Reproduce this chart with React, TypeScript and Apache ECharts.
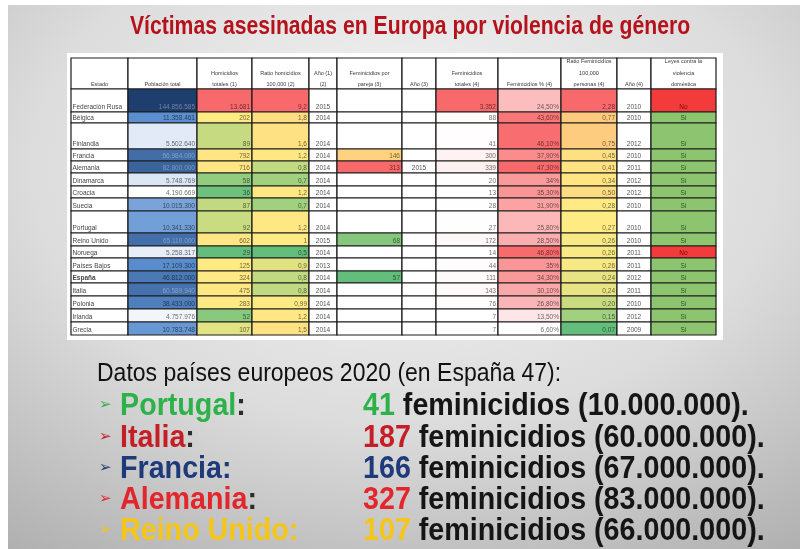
import React, { useEffect, useRef } from 'react';
import * as echarts from 'echarts';

// ---------- DATA ----------
const countries = ['Federación Rusa', 'Bélgica', 'Finlandia', 'Francia', 'Alemania', 'Dinamarca', 'Croacia', 'Suecia', 'Portugal', 'Reino Unido', 'Noruega', 'Países Bajos', 'España', 'Italia', 'Polonia', 'Irlanda', 'Grecia'];
const population = [144856585, 11358461, 5502640, 66984000, 82800000, 5748769, 4190669, 10015300, 10341330, 65110000, 5258317, 17109300, 46812000, 60589940, 38433000, 4757976, 10783748];
const homicides = [13681, 202, 89, 792, 716, 58, 36, 87, 92, 602, 29, 125, 324, 475, 283, 52, 107];
const homicideRatio = [9.2, 1.8, 1.6, 1.2, 0.8, 0.7, 1.2, 0.7, 1.2, 1, 0.5, 0.9, 0.8, 0.8, 0.99, 1.2, 1.5];
const year12 = [2015, 2014, 2014, 2014, 2014, 2014, 2014, 2014, 2014, 2015, 2014, 2013, 2014, 2014, 2014, 2014, 2014];
const femPartner = [null, null, null, 146, 313, null, null, null, null, 68, null, null, 57, null, null, null, null];
const year3 = [null, null, null, null, 2015, null, null, null, null, null, null, null, null, null, null, null, null];
const femTotal = [3352, 88, 41, 300, 339, 20, 13, 28, 27, 172, 14, 44, 111, 143, 76, 7, 7];
const femPct = [24.5, 43.6, 46.1, 37.9, 47.3, 34, 35.3, 31.9, 25.8, 28.5, 46.8, 35, 34.3, 30.1, 26.8, 13.5, 6.6];
const femRatio = [2.28, 0.77, 0.75, 0.45, 0.41, 0.34, 0.5, 0.28, 0.27, 0.26, 0.26, 0.26, 0.24, 0.24, 0.2, 0.15, 0.07];
const year4 = [2010, 2010, 2012, 2010, 2011, 2012, 2012, 2010, 2010, 2010, 2011, 2011, 2012, 2011, 2010, 2012, 2009];
const laws = ['No', 'Sí', 'Sí', 'Sí', 'Sí', 'Sí', 'Sí', 'Sí', 'Sí', 'Sí', 'No', 'Sí', 'Sí', 'Sí', 'Sí', 'Sí', 'Sí'];
const headers = ['Estado', 'Población total', 'Homicidios\ntotales (1)', 'Ratio homicidios\n100,000 (2)', 'Año (1)\n(2)', 'Feminicidios por\npareja (3)', 'Año (3)', 'Feminicidios\ntotales (4)', 'Feminicidios % (4)', 'Ratio Feminicidios\n100,000\npersonas (4)', 'Año (4)', 'Leyes contra la\nviolencia\ndoméstica'];

const names2020 = ['Portugal', 'Italia', 'Francia', 'Alemania', 'Reino Unido'];
const femicides2020 = [41, 187, 166, 327, 107];
const population2020 = [10000000, 60000000, 67000000, 83000000, 66000000];

// ---------- LAYOUT / STYLE ----------
const colEdges = [71, 128, 197, 252, 309, 337, 402, 436, 498, 561, 617, 651, 716];
const rowEdges = [58, 89, 112, 123, 149, 161, 173, 186, 198, 211, 233, 246, 258, 271, 283, 296, 309, 322, 335];
const GREEN = '#63BE7B', YELLOW = '#FFEB84', RED = '#F8696B', WHITE = '#FFFFFF';
const itemColors = ['#2DB24A', '#C61E26', '#1F3A7A', '#E3262B', '#F5C518'];
const colonColors = ['#2b2b2b', '#2b2b2b', '#1F3A7A', '#2b2b2b', '#F5C518'];

function hexToRgb(h: string) {
  const n = parseInt(h.slice(1), 16);
  return [(n >> 16) & 255, (n >> 8) & 255, n & 255];
}
function rgbToHex(c: number[]) {
  return '#' + c.map((v) => Math.max(0, Math.min(255, Math.round(v))).toString(16).padStart(2, '0')).join('');
}
function mix(a: string, b: string, t: number) {
  const A = hexToRgb(a), B = hexToRgb(b);
  return rgbToHex(A.map((v, i) => v + (B[i] - v) * t));
}
function lum(h: string) {
  const c = hexToRgb(h);
  return (0.299 * c[0] + 0.587 * c[1] + 0.114 * c[2]) / 255;
}
function percentile50(vals: number[]) {
  const s = [...vals].sort((a, b) => a - b);
  const m = (s.length - 1) / 2;
  return (s[Math.floor(m)] + s[Math.ceil(m)]) / 2;
}
function scale3(values: (number | null)[], lo: string, mid: string, hi: string) {
  const v = values.filter((x) => x != null) as number[];
  const min = Math.min(...v), max = Math.max(...v), med = percentile50(v);
  return (x: number) => {
    if (x <= med) return mix(lo, mid, med === min ? 0 : (x - min) / (med - min));
    return mix(mid, hi, (x - med) / (max - med));
  };
}
function scale2(values: number[], lo: string, hi: string) {
  const min = Math.min(...values), max = Math.max(...values);
  return (x: number) => mix(lo, hi, (x - min) / (max - min));
}
const fmtInt = (n: number) => n.toString().replace(/\B(?=(\d{3})+(?!\d))/g, '.');
const fmtNum = (n: number) => String(n).replace('.', ',');
const fmtDec2 = (n: number) => n.toFixed(2).replace('.', ',');
const fmtPct = (n: number) => (Number.isInteger(n) ? n + '%' : n.toFixed(2).replace('.', ',') + '%');

type Cell = { col: number; row: number; text: string; fill: string; align: string; color: string; bold?: boolean; header?: boolean };

function buildCells(): Cell[] {
  const cells: Cell[] = [];
  headers.forEach((h, c) => cells.push({ col: c, row: 0, text: h, fill: WHITE, align: 'center', color: '#3a3a3a', header: true }));
  const popS = scale3(population, '#FFFFFF', '#5B8FD0', '#1E3E6E');
  const homS = scale3(homicides, GREEN, YELLOW, RED);
  const hrS = scale3(homicideRatio, GREEN, YELLOW, RED);
  const fpS = scale3(femPartner, GREEN, YELLOW, RED);
  const ftS = scale2(femTotal, '#FFFFFF', RED);
  const fpcS = scale2(femPct, '#FFFFFF', RED);
  const frS = scale3(femRatio, GREEN, YELLOW, RED);
  const txt = (fill: string) => (lum(fill) < 0.42 ? mix(fill, '#FFFFFF', 0.35) : mix(fill, '#000000', 0.55));
  countries.forEach((name, i) => {
    const r = i + 1;
    const push = (col: number, text: string, fill: string, align: string, extra: Partial<Cell> = {}) =>
      cells.push({ col, row: r, text, fill, align, color: fill === WHITE ? '#555555' : txt(fill), ...extra });
    push(0, name, WHITE, 'left', { bold: name === 'España', color: '#444444' });
    push(1, fmtInt(population[i]), popS(population[i]), 'right');
    push(2, fmtInt(homicides[i]), homS(homicides[i]), 'right');
    push(3, fmtNum(homicideRatio[i]), hrS(homicideRatio[i]), 'right');
    push(4, String(year12[i]), WHITE, 'center');
    const fp = femPartner[i];
    push(5, fp == null ? '' : String(fp), fp == null ? WHITE : fpS(fp), 'right');
    const y3 = year3[i];
    push(6, y3 == null ? '' : String(y3), WHITE, 'center');
    push(7, fmtInt(femTotal[i]), ftS(femTotal[i]), 'right');
    push(8, fmtPct(femPct[i]), fpcS(femPct[i]), 'right');
    push(9, fmtDec2(femRatio[i]), frS(femRatio[i]), 'right');
    push(10, String(year4[i]), WHITE, 'center');
    const lf = laws[i] === 'Sí' ? '#8CC46F' : '#F43B3B';
    push(11, laws[i], lf, 'center', { color: laws[i] === 'Sí' ? '#2f5a1e' : '#7a0c0c' });
  });
  return cells;
}

export default function App() {
  const ref = useRef<HTMLDivElement>(null);
  useEffect(() => {
    if (!ref.current) return;
    const chart = echarts.init(ref.current, null, { renderer: 'svg' });
    const cells = buildCells();
    const sans = '"Liberation Sans", Arial, sans-serif';

    const graphics: any[] = [
      { type: 'rect', z: 0, shape: { x: 0, y: 0, width: 804, height: 549 }, style: { fill: '#ffffff' } },
      {
        type: 'rect', z: 1, shape: { x: 8, y: 5, width: 792, height: 544 },
        style: { fill: { type: 'radial', x: 0.5, y: 0.3, r: 1.05, colorStops: [{ offset: 0, color: '#f7f7f7' }, { offset: 0.45, color: '#dcdcdc' }, { offset: 1, color: '#9a9a9a' }] } },
      },
      { type: 'rect', z: 2, shape: { x: 67, y: 53, width: 656, height: 287 }, style: { fill: '#ffffff' } },
      {
        type: 'text', z: 10, x: 410, y: 25, scaleX: 0.815,
        style: { text: 'Víctimas asesinadas en Europa por violencia de género', fill: '#B5121B', fontSize: 26, fontWeight: 'bold', fontFamily: sans, align: 'center', verticalAlign: 'middle' },
      },
      {
        type: 'text', z: 10, x: 97, y: 372, scaleX: 0.92,
        style: { text: 'Datos países europeos 2020 (en España 47):', fill: '#111111', fontSize: 25, fontFamily: sans, align: 'left', verticalAlign: 'middle' },
      },
    ];
    const ys = [404, 436, 467, 498, 529];
    names2020.forEach((n, i) => {
      graphics.push({ type: 'text', z: 10, x: 99, y: ys[i], style: { text: '➢', fill: itemColors[i], fontSize: 15, fontFamily: 'DejaVu Sans', verticalAlign: 'middle' } });
      graphics.push({
        type: 'text', z: 10, x: 120, y: ys[i], scaleX: 0.925,
        style: {
          text: `{n|${n}}{c|:}`, verticalAlign: 'middle',
          rich: {
            n: { fill: itemColors[i], fontSize: 31, fontWeight: 'bold', fontFamily: sans },
            c: { fill: colonColors[i], fontSize: 31, fontWeight: 'bold', fontFamily: sans },
          },
        },
      });
      graphics.push({
        type: 'text', z: 10, x: 363, y: ys[i], scaleX: 0.925,
        style: {
          text: `{v|${femicides2020[i]}}{t| feminicidios (${fmtInt(population2020[i])}).}`, verticalAlign: 'middle',
          rich: {
            v: { fill: itemColors[i], fontSize: 31, fontWeight: 'bold', fontFamily: sans },
            t: { fill: '#151515', fontSize: 31, fontWeight: 'bold', fontFamily: sans },
          },
        },
      });
    });

    chart.setOption({
      animation: false,
      graphic: graphics,
      grid: { left: 0, right: 0, top: 0, bottom: 0 },
      xAxis: { type: 'value', min: 0, max: 804, show: false },
      yAxis: { type: 'value', min: 0, max: 549, inverse: true, show: false },
      series: [
        {
          type: 'custom',
          z: 5,
          clip: false,
          data: cells.map((c, i) => [c.col, c.row, i]),
          renderItem: (params: any, api: any) => {
            const cell = cells[api.value(2)];
            const p0 = api.coord([colEdges[cell.col], rowEdges[cell.row]]);
            const p1 = api.coord([colEdges[cell.col + 1], rowEdges[cell.row + 1]]);
            const x = p0[0], y = p0[1], w = p1[0] - p0[0], h = p1[1] - p0[1];
            let tx = x + w / 2;
            if (cell.align === 'left') tx = x + 1.5;
            if (cell.align === 'right') tx = x + w - 2;
            return {
              type: 'group',
              children: [
                { type: 'rect', shape: { x, y, width: w, height: h }, style: { fill: cell.fill, stroke: '#1c1c1c', lineWidth: 1.2 } },
                {
                  type: 'text',
                  style: {
                    text: cell.text, x: tx, y: cell.header ? y + h + 0.5 : y + h - 1.5,
                    fill: cell.color, fontSize: cell.header ? 5.5 : 6.5, lineHeight: cell.header ? 11.3 : 8,
                    fontWeight: cell.bold ? 'bold' : 'normal', fontFamily: sans,
                    align: cell.align, verticalAlign: 'bottom',
                  },
                },
              ],
            };
          },
        },
      ],
    });
    return () => chart.dispose();
  }, []);
  return <div ref={ref} style={{ position: 'fixed', left: 0, top: 0, width: 804, height: 549 }} />;
}
